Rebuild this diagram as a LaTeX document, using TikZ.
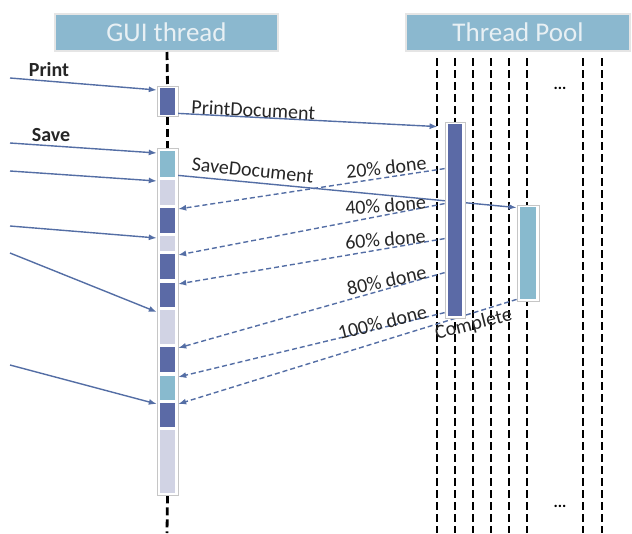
\documentclass[tikz,border=0pt]{standalone}
\usepackage{fontspec}
\setmainfont{Carlito}
\usetikzlibrary{arrows.meta,calc}
\definecolor{hdr}{RGB}{139,184,207}
\definecolor{hdrtxt}{RGB}{232,240,244}
\definecolor{dk}{RGB}{91,106,166}
\definecolor{tl}{RGB}{136,186,206}
\definecolor{lt}{RGB}{209,211,228}
\definecolor{arr}{RGB}{84,110,165}
\begin{document}
\begin{tikzpicture}[x=1pt,y=-1pt,
  header/.style={fill=hdr, draw=white!80!gray, line width=1.2pt, text=hdrtxt,
    font=\fontsize{27}{29}\selectfont, minimum height=37pt, inner sep=0},
  life/.style={black, line width=2.8pt, dash pattern=on 8pt off 4pt},
  frame/.style={fill=white, draw=gray!45, line width=0.8pt, inner sep=0},
  seg/.style={inner sep=0, draw=none, minimum width=15pt},
  msg/.style={arr, line width=1.4pt, -{Latex[length=8pt,width=6pt]}},
  ret/.style={msg, dash pattern=on 5pt off 3pt},
  lbl/.style={font=\fontsize{20}{22}\selectfont, text=black!85, inner sep=0, anchor=base},
  dots/.style={font=\bfseries\fontsize{16}{18}\selectfont, inner sep=0}]
\useasboundingbox (0,0) rectangle (632,533);

% headers
\node[header, minimum width=223pt] (gh) at (166.5,32.5) {GUI thread};
\node[header, minimum width=224pt] (ph) at (518,32.5) {Thread Pool};

% GUI frames
\node[frame, minimum width=21pt, minimum height=30pt] (g0f) at (167.5,101.5) {};
\node[frame, minimum width=21pt, minimum height=347pt] (gbar) at (167.5,321.5) {};

% lifelines
\draw[life] (167,52) -- (g0f.north);
\draw[life] (g0f.south) -- (gbar.north);
\draw[life] (gbar.south) -- (167,533);
\foreach \x/\n in {437/1,455/2,473/3,491/4,509/5,527/6,583/7,602/8}
  \draw[life] (\x,58) coordinate (pl\n) -- (\x,533);

% redraw frames above lifelines
\node[frame, minimum width=21pt, minimum height=30pt] at (167.5,101.5) {};
\node[frame, minimum width=21pt, minimum height=347pt] at (167.5,321.5) {};

\node[seg, fill=dk, minimum height=27pt, anchor=north] (g0) at (167.5,88) {};
\node[seg, fill=tl, minimum height=26pt, anchor=north] (s1) at (167.5,151) {};
\node[seg, fill=lt, minimum height=25pt, anchor=north] (s2) at (167.5,180) {};
\node[seg, fill=dk, minimum height=25pt, anchor=north] (s3) at (167.5,208) {};
\node[seg, fill=lt, minimum height=15pt, anchor=north] (s4) at (167.5,236) {};
\node[seg, fill=dk, minimum height=25pt, anchor=north] (s5) at (167.5,254) {};
\node[seg, fill=dk, minimum height=24pt, anchor=north] (s6) at (167.5,283) {};
\node[seg, fill=lt, minimum height=34pt, anchor=north] (s7) at (167.5,310) {};
\node[seg, fill=dk, minimum height=25pt, anchor=north] (s8) at (167.5,347) {};
\node[seg, fill=tl, minimum height=24pt, anchor=north] (s9) at (167.5,376) {};
\node[seg, fill=dk, minimum height=24pt, anchor=north] (s10) at (167.5,403) {};
\node[seg, fill=lt, minimum height=63pt, anchor=north] (s11) at (167.5,430) {};

% thread pool bar outlines (named for the connectors)
\path (455,220) node[frame, minimum width=20pt, minimum height=196pt, draw=none, fill=none] (pb1f) {};
\path (528,253) node[frame, minimum width=22pt, minimum height=96pt, draw=none, fill=none] (pb2f) {};

% incoming calls
\coordinate (in1) at (10,78);
\coordinate (in2) at (10,143);
\coordinate (in3) at (10,171);
\coordinate (in4) at (10,226);
\coordinate (in5) at (10,253);
\coordinate (in6) at (10,365);
\draw[msg] (in1) -- ([xshift=-3pt,yshift=-2pt]g0.north west);
\draw[msg] (in2) -- ([xshift=-3pt,yshift=-2pt]s1.north west);
\draw[msg] (in3) -- ([xshift=-3pt,yshift=-1pt]s2.north west);
\draw[msg] (in4) -- ([xshift=-3pt,yshift=-2pt]s4.north west);
\draw[msg] (in5) -- ([xshift=-3pt,yshift=-2pt]s7.north west);
\draw[msg] (in6) -- ([xshift=-3pt,yshift=-1pt]s10.north west);
\node[lbl, font=\bfseries\fontsize{20}{22}\selectfont, anchor=center] (lp) at (49,70) {Print};
\node[lbl, font=\bfseries\fontsize{20}{22}\selectfont, anchor=center] (ls) at (51,135) {Save};

% outgoing calls
\draw[msg] ([xshift=3pt,yshift=2pt]g0.south east) -- ([xshift=-7pt,yshift=-5pt]pb1f.north west);
\draw[msg] ([xshift=3pt,yshift=2pt]s1.south east) -- ([yshift=-3pt]pb2f.north west);

% progress returns
\draw[ret] ([yshift=-47pt]pb1f.north west) -- ([xshift=3pt,yshift=-1pt]s3.north east);
\draw[ret] ([yshift=-82pt]pb1f.north west) -- ([xshift=3pt,yshift=-1pt]s5.north east);
\draw[ret] ([yshift=-117pt]pb1f.north west) -- ([xshift=3pt,yshift=-1pt]s6.north east);
\draw[ret] ([yshift=-151pt]pb1f.north west) -- ([xshift=3pt,yshift=-1pt]s8.north east);
\draw[ret] ([yshift=-191pt]pb1f.north west) -- ([xshift=3pt,yshift=-1pt]s9.north east);
\draw[ret] ([yshift=2pt]pb2f.south west) -- ([xshift=3pt,yshift=-1pt]s10.north east);

% pool bars
\node[frame, minimum width=20pt, minimum height=196pt] at (455,220) {};
\node[seg, fill=dk, minimum width=14pt, minimum height=192pt] (pb1) at (455,220) {};
\node[frame, minimum width=22pt, minimum height=96pt] at (528,253) {};
\node[seg, fill=tl, minimum width=16pt, minimum height=92pt] (pb2) at (528,253) {};

% labels
\node[lbl, rotate=-3] (lpd) at (253,117) {PrintDocument};
\node[lbl, rotate=-6] (lsd) at (252,177) {SaveDocument};
\node[lbl, rotate=6] (l20) at (387,174) {20\% done};
\node[lbl, rotate=4] (l40) at (386,212) {40\% done};
\node[lbl, rotate=5] (l60) at (386,246) {60\% done};
\node[lbl, rotate=12] (l80) at (388,287) {80\% done};
\node[lbl, rotate=14] (l100) at (384,329) {100\% done};
\node[lbl, rotate=14] (lc) at (475,330) {Complete};

\node[dots] (d1) at (560,88) {...};
\node[dots] (d2) at (560,506) {...};
\end{tikzpicture}
\end{document}
